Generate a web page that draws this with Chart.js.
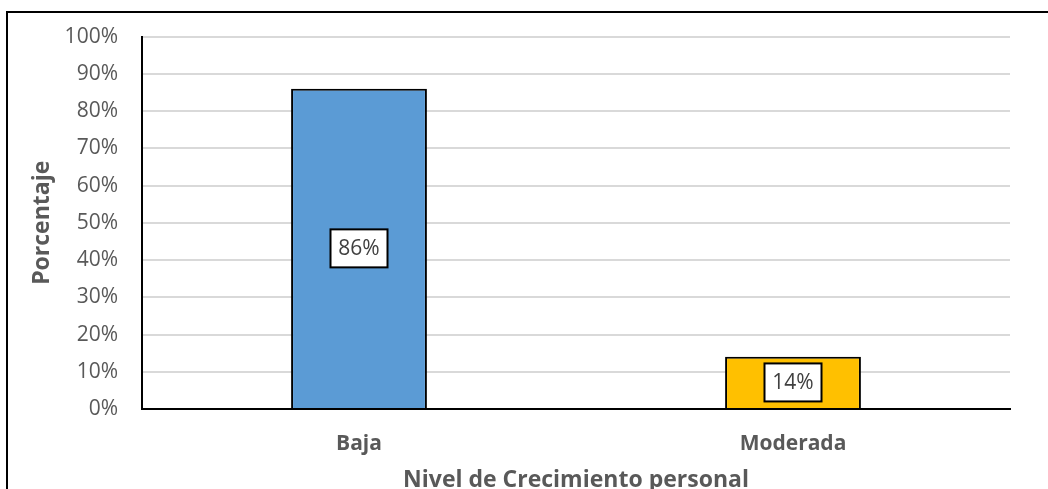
<!DOCTYPE html>
<html>
<head>
<meta charset="utf-8">
<script src="https://cdn.jsdelivr.net/npm/chart.js@4/dist/chart.umd.min.js"></script>
<style>
    html, body { margin: 0; padding: 0; background: #fff; overflow: hidden; }
    #wrap { position: relative; width: 1048px; height: 500px; }
</style>
</head>
<body>
<div id="wrap"><canvas id="grafico"></canvas></div>
<script>
const categorias = ["Baja", "Moderada"];
const porcentajes = [86, 14];
const colores = ["#5B9BD5", "#FFC000"];
const yTicks = [0, 10, 20, 30, 40, 50, 60, 70, 80, 90, 100];

const fuente = "'Open Sans', 'Liberation Sans', sans-serif";

// marco exterior del grafico
const marcoPlugin = {
    id: "marco",
    beforeDraw(chart) {
        let ctx = chart.ctx;
        ctx.save();
        ctx.strokeStyle = "#000";
        ctx.lineWidth = 2;
        ctx.beginPath();
        ctx.moveTo(7, chart.height);
        ctx.lineTo(7, 12);
        ctx.lineTo(chart.width, 12);
        ctx.stroke();
        ctx.restore();
    }
};

// etiquetas de datos en cajas blancas
const etiquetasPlugin = {
    id: "etiquetas",
    afterDatasetsDraw(chart) {
        let ctx = chart.ctx;
        let meta = chart.getDatasetMeta(0);
        ctx.save();
        ctx.font = "21px " + fuente;
        ctx.textAlign = "center";
        ctx.textBaseline = "middle";
        meta.data.forEach((bar, i) => {
            let cx = bar.x;
            let cy = (bar.y + bar.base) / 2;
            let w = 57, h = 38;
            ctx.fillStyle = "#fff";
            ctx.fillRect(cx - w / 2, cy - h / 2, w, h);
            ctx.strokeStyle = "#000";
            ctx.lineWidth = 2;
            ctx.strokeRect(cx - w / 2, cy - h / 2, w, h);
            ctx.fillStyle = "#404040";
            ctx.fillText(porcentajes[i] + "%", cx, cy + 1);
        });
        ctx.restore();
    }
};

const data = {
    labels: categorias,
    datasets: [{
        label: "Porcentaje",
        data: porcentajes,
        backgroundColor: colores,
        borderColor: "#000",
        borderWidth: 2,
        barPercentage: 0.313,
        categoryPercentage: 1
    }]
};

const config = {
    type: "bar",
    data: data,
    options: {
        responsive: false,
        animation: false,
        layout: { padding: { top: 33, right: 38, left: 0, bottom: 0 } },
        plugins: {
            legend: { display: false },
            tooltip: { enabled: false }
        },
        scales: {
            x: {
                grid: { display: false, drawTicks: false },
                border: { color: "#000", width: 2 },
                ticks: {
                    padding: 22,
                    color: "#595959",
                    font: { family: fuente, size: 21, weight: "bold" }
                },
                title: {
                    display: true,
                    text: "Nivel de Crecimiento personal",
                    color: "#595959",
                    padding: { top: 0, bottom: 6 },
                    font: { family: fuente, size: 23, weight: "bold" }
                },
                afterFit(scale) { scale.height = 91; }
            },
            y: {
                min: 0,
                max: 100,
                afterBuildTicks(scale) {
                    scale.ticks = yTicks.map(v => ({ value: v }));
                },
                grid: { color: "#D9D9D9", lineWidth: 2, drawTicks: false },
                border: { color: "#000", width: 2 },
                ticks: {
                    padding: 24,
                    color: "#595959",
                    font: { family: fuente, size: 21 },
                    callback: v => v + "%"
                },
                title: {
                    display: true,
                    text: "Porcentaje",
                    color: "#595959",
                    padding: { top: 29, bottom: 0 },
                    font: { family: fuente, size: 23, weight: "bold" }
                },
                afterFit(scale) { scale.width = 142; }
            }
        }
    },
    plugins: [marcoPlugin, etiquetasPlugin]
};

let canvas = document.getElementById("grafico");
canvas.width = 1048;
canvas.height = 500;
new Chart(canvas.getContext("2d"), config);
</script>
</body>
</html>
